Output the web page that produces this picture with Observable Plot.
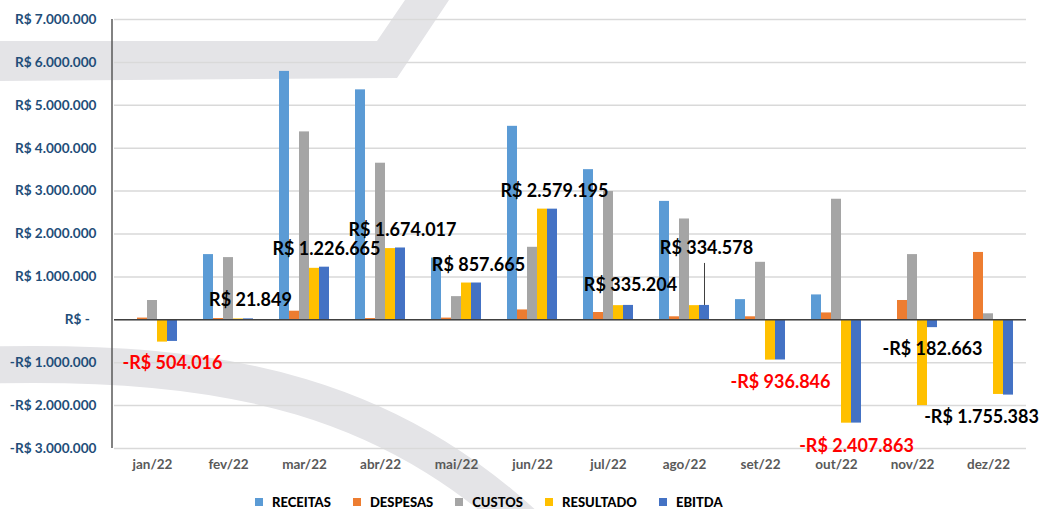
<!DOCTYPE html>
<html>
<head>
<meta charset="utf-8">
<script src="https://cdn.jsdelivr.net/npm/d3@7"></script>
<script src="https://cdn.jsdelivr.net/npm/@observablehq/plot@0.6"></script>
<style>
  body { margin: 0; background: #ffffff; font-family: Lato, "Open Sans", sans-serif; }
  #wrap { position: relative; width: 1040px; height: 509px; overflow: hidden; }
  #bg, #chart { position: absolute; left: 0; top: 0; }
  #legend { position: absolute; left: 255px; top: 494px; display: flex; font-family: Lato, sans-serif; font-weight: 900; font-size: 13px; line-height: 16px; color: #000; white-space: nowrap; }
  #legend .item { display: flex; align-items: center; margin-right: 22px; }
  #legend .sw { width: 8px; height: 8px; margin-right: 9px; }
  g[aria-label="y-axis tick label"] { font-size: 13.6px; font-weight: bold; fill: #1f4e79; }
  g[aria-label="fx-axis tick label"] { font-size: 13.5px; font-weight: bold; fill: #595959; }
</style>
</head>
<body>
<div id="wrap">
  <svg id="bg" width="1040" height="509">
    <path d="M0,41 L377,41 L405,0 L449,0 L397,78 L0,81 Z" fill="#e4e4e7"/>
    <path d="M-10,365 C220,360 400,390 560,560" fill="none" stroke="#e4e4e7" stroke-width="37"/>
  </svg>
  <div id="chart"></div>
  <div id="legend"></div>
</div>
<script>
// ---- data ----
const months = ["jan/22","fev/22","mar/22","abr/22","mai/22","jun/22","jul/22","ago/22","set/22","out/22","nov/22","dez/22"];
const series = ["RECEITAS","DESPESAS","CUSTOS","RESULTADO","EBITDA"];
const receitas  = [0, 1520000, 5790000, 5360000, 1440000, 4510000, 3500000, 2760000, 470000, 580000, 0, 0];
const despesas  = [40000, 30000, 200000, 30000, 40000, 230000, 170000, 70000, 70000, 160000, 450000, 1570000];
const custos    = [450000, 1450000, 4380000, 3650000, 540000, 1690000, 2990000, 2350000, 1340000, 2810000, 1520000, 140000];
const resultado = [-520000, 20000, 1200000, 1660000, 857000, 2580000, 330000, 330000, -940000, -2410000, -2000000, -1740000];
const ebitda    = [-504016, 21849, 1226665, 1674017, 857665, 2579195, 335204, 334578, -936846, -2407863, -182663, -1755383];
const yTicks = [-3000000, -2000000, -1000000, 0, 1000000, 2000000, 3000000, 4000000, 5000000, 6000000, 7000000];

// ---- style / layout ----
const colors = ["#5B9BD5", "#ED7D31", "#A5A5A5", "#FFC000", "#4472C4"];
const labelColors = ["#ff0000","#000","#000","#000","#000","#000","#000","#000","#ff0000","#ff0000","#000","#000"];
const labelDx = [0, 2, 2, 2, 2, 2, 2, 2, 0, 0, 0, -27];
const labelDy = [22, -19, -18, -18, -18, -18, -20, -57, 22, 23, 22, 22];
const W = 1040, H = 490, mL = 112, mR = 13, mT = 19, mB = 42;

const seriesValues = [receitas, despesas, custos, resultado, ebitda];
const rows = [];
months.forEach((m, i) => series.forEach((s, k) => rows.push({month: m, series: s, value: seriesValues[k][i]})));
const labelRows = months.map((m, i) => ({month: m, value: ebitda[i]}));

const fmtNum = d3.formatLocale({decimal: ",", thousands: ".", grouping: [3], currency: ["R$ ", ""]}).format(",.0f");
const brl = v => (v < 0 ? "-R$ " : "R$ ") + fmtNum(Math.abs(v));
const tickFmt = v => v === 0 ? "R$ -\u2002" : brl(v);

const yDomain = [yTicks[0], yTicks[yTicks.length - 1]];
const unitsPerPx = (yDomain[1] - yDomain[0]) / (H - mT - mB);
const iAgo = months.indexOf("ago/22");

const labelMarks = labelRows.map((d, i) => Plot.text([d], {
  fx: "month", x: () => "EBITDA", y: "value", text: r => brl(r.value),
  dx: labelDx[i], dy: labelDy[i], fill: labelColors[i],
  fontSize: 18, fontWeight: "bold", textAnchor: "middle", lineAnchor: "middle"
}));

const chart = Plot.plot({
  width: W, height: H,
  marginLeft: mL, marginRight: mR, marginTop: mT, marginBottom: mB,
  style: {background: "transparent", fontFamily: "Lato, sans-serif", overflow: "visible"},
  fx: {domain: months, padding: 0, label: null},
  x: {domain: series, paddingInner: 0.03, paddingOuter: 1.11, axis: null},
  y: {domain: yDomain, label: null},
  color: {domain: series, range: colors},
  marks: [
    Plot.gridY(yTicks, {stroke: "#d9d9d9", strokeOpacity: 1, strokeWidth: 1.5}),
    Plot.axisY({ticks: yTicks, tickFormat: tickFmt, tickSize: 0, tickPadding: 18, label: null}),
    Plot.axisFx({anchor: "bottom", tickSize: 0, tickPadding: 11, label: null}),
    Plot.barY(rows, {fx: "month", x: "series", y: "value", fill: "series"}),
    Plot.ruleY([0], {stroke: "#404040", strokeWidth: 1.5}),
    Plot.ruleX([labelRows[iAgo]], {fx: "month", x: () => "EBITDA",
      y1: "value", y2: d => d.value + 42 * unitsPerPx, stroke: "#404040", strokeWidth: 1}),
    ...labelMarks
  ]
});
document.getElementById("chart").appendChild(chart);

// left axis line using the plot's y scale
const ys = chart.scale("y");
d3.select(chart).append("line")
  .attr("x1", mL).attr("x2", mL)
  .attr("y1", ys.apply(yDomain[1])).attr("y2", ys.apply(yDomain[0]))
  .attr("stroke", "#595959").attr("stroke-width", 1.5);

// legend
const legend = d3.select("#legend");
series.forEach((s, k) => {
  const it = legend.append("div").attr("class", "item");
  it.append("div").attr("class", "sw").style("background", colors[k]);
  it.append("span").text(s);
});
</script>
</body>
</html>
